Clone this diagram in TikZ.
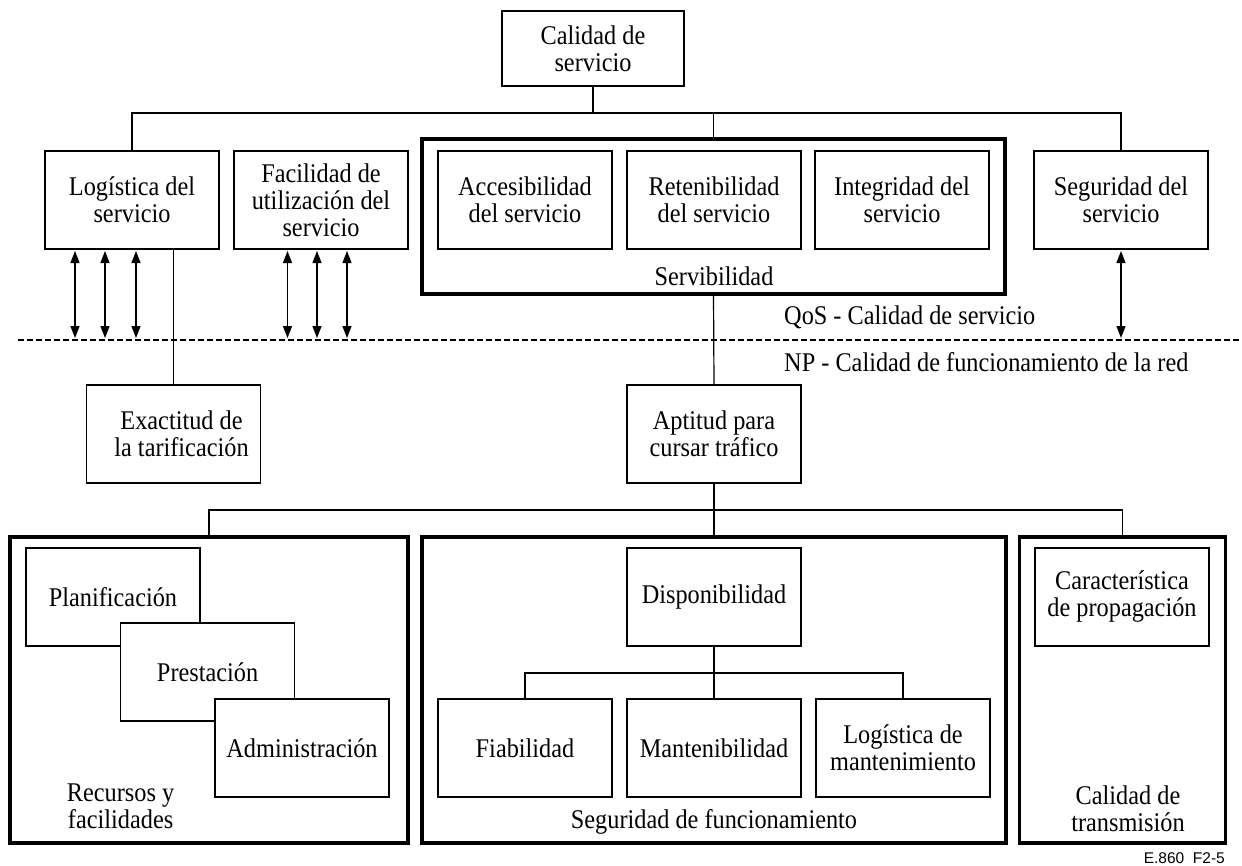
\documentclass[tikz,border=0pt]{standalone}
\usepackage{fontspec}
\setmainfont{Liberation Serif}[FakeStretch=0.9]
\newfontfamily\figfont{Liberation Sans}
\usetikzlibrary{arrows.meta}

\tikzset{
  box/.style={draw, line width=1.2pt, minimum width=174pt, minimum height=98pt,
    align=center, inner sep=0pt, outer sep=0pt, fill=white},
  group/.style={draw, line width=3.2pt, inner sep=0pt, outer sep=0pt},
  link/.style={line width=1.2pt},
  dbl/.style={line width=1.2pt,
    {Triangle[length=12pt,width=9pt]}-{Triangle[length=12pt,width=9pt]}},
  lbl/.style={align=center, inner sep=0pt},
  divider/.style={line width=1.2pt, dash pattern=on 6pt off 3pt},
}

\begin{document}
\begin{tikzpicture}[x=1pt, y=-1pt, font=\fontsize{27}{27}\selectfont]
\useasboundingbox (0,0) rectangle (1242,865);

% --- bus levels and the QoS / NP divider
\coordinate (busA) at (0,113);
\coordinate (busB) at (0,510);
\coordinate (busC) at (0,673);
\coordinate (tipline) at (0,338);
\coordinate (dl) at (18,340);
\coordinate (dr) at (1242,340);

% --- grouping frames
\node[group, minimum width=583pt, minimum height=155pt] (serv) at (713.5,216.5) {};
\node[group, minimum width=398pt, minimum height=306pt] (rec) at (209,690) {};
\node[group, minimum width=584pt, minimum height=306pt] (sdf) at (714,690) {};
\node[group, minimum width=206pt, minimum height=306pt] (ctr) at (1122.6,690) {};

% --- top of the tree
\node[box, minimum width=182pt, minimum height=75pt] (top) at (593,48.5) {Calidad de\\servicio};

% --- service level
\node[box] (log) at (132,200) {Logística del\\servicio};
\node[box] (fac) at (321,200) {Facilidad de\\utilización del\\servicio};
\node[box] (acc) at (525,200) {Accesibilidad\\del servicio};
\node[box] (ret) at (714,200) {Retenibilidad\\del servicio};
\node[box] (int) at (902,200) {Integridad del\\servicio};
\node[box] (seg) at (1121,200) {Seguridad del\\servicio};
\node[lbl] (servl) at (714,276) {Servibilidad};

% --- network level
\node[box] (exa) at (173.5,434) {\hspace*{16pt}Exactitud de\\\hspace*{16pt}la tarificación};
\node[box] (apt) at (714,434) {Aptitud para\\cursar tráfico};

% --- resources
\node[box] (pla) at (113,597) {Planificación};
\node[box] (pre) at (207.6,672) {Prestación};
\node[box] (adm) at (302,748) {Administración};
\node[lbl] (recl) at (120.6,806) {Recursos y\\facilidades};

% --- dependability
\node[box] (dis) at (714,597) {Disponibilidad};
\node[box] (fia) at (525,748) {Fiabilidad};
\node[box] (man) at (714,748) {Mantenibilidad};
\node[box] (lmt) at (903,748) {Logística de\\mantenimiento};
\node[lbl] (sdfl) at (714,822) {Seguridad de funcionamiento};

% --- transmission
\node[box] (car) at (1122,597) {Característica\\de propagación};
\node[lbl] (ctrl) at (1128,809) {Calidad de\\transmisión};

% --- divider and its captions
\draw[divider] (dl) -- (dr);
\node[lbl, anchor=west] (qos) at (784,317) {QoS - Calidad de servicio};
\node[lbl, anchor=west] (np) at (784,362) {NP - Calidad de funcionamiento de la red};

% --- tree connectors
\draw[link] (top.south) -- (top.south |- busA);
\draw[link] (log.north) -- (log.north |- busA) -- (seg.north |- busA) -- (seg.north);
\draw[link] (serv.north) -- (serv.north |- busA);
\draw[link] (exa.north |- log.south) -- (exa.north);
\draw[link] (serv.south) -- (apt.north);
\draw[link] (apt.south) -- (sdf.north);
\draw[link] (rec.north) -- (rec.north |- busB) -- (ctr.north |- busB) -- (ctr.north);
\draw[link] (dis.south) -- (man.north);
\draw[link] (fia.north) -- (fia.north |- busC) -- (lmt.north |- busC) -- (lmt.north);

% --- QoS <-> NP mappings
\foreach \dx in {-57,-27,4}
  \draw[dbl] ([xshift=\dx pt, yshift=-2pt]log.south) -- ([xshift=\dx pt]log.south |- tipline);
\foreach \dx in {-33.5,-4,26}
  \draw[dbl] ([xshift=\dx pt, yshift=-2pt]fac.south) -- ([xshift=\dx pt]fac.south |- tipline);
\draw[dbl] ([yshift=-2pt]seg.south) -- (seg.south |- tipline);

% --- figure reference
\node[lbl, anchor=east, font=\figfont\fontsize{15.5}{18}\selectfont] (ref) at (1225,858) {E.860\ \ F2-5};
\end{tikzpicture}
\end{document}
